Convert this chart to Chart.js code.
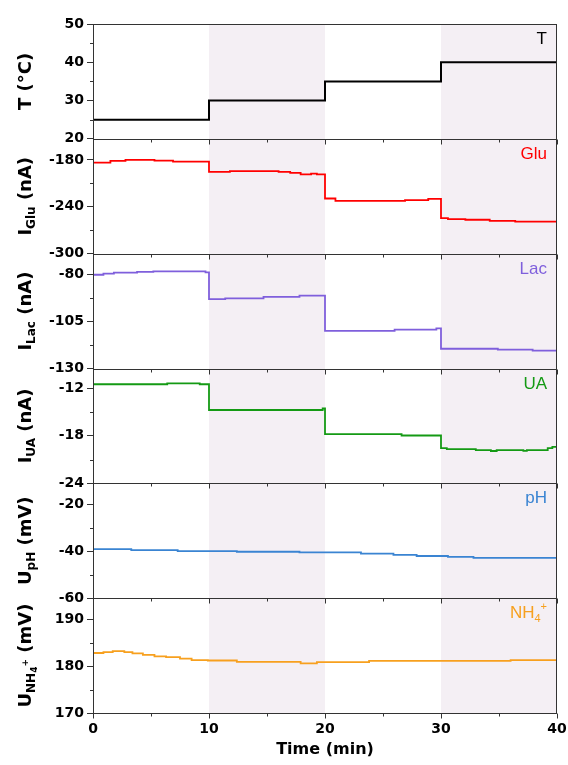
<!DOCTYPE html>
<html>
<head>
<meta charset="utf-8">
<script src="https://cdn.jsdelivr.net/npm/chart.js@4.4.1/dist/chart.umd.min.js"></script>
<style>
  html, body { margin: 0; padding: 0; background: #fff; }
  #wrap { width: 568px; height: 765px; }
</style>
</head>
<body>
<div id="wrap"><canvas id="chart" width="568" height="765"></canvas></div>
<script>
// Time axis
const timeTicks = [0, 10, 20, 30, 40];
const timeMinor = [5, 15, 25, 35];
const shadedBands = [[10, 20], [30, 40]];

// Temperature steps (min, °C)
const timeT = [0, 10, 20, 30, 40];
const tempC = [25, 30, 35, 40, 40];

// Glucose current (nA)
const timeGlu = [0, 1.5, 2.8, 5.3, 6.9, 10, 11.8, 16.0, 17.0, 17.9, 18.8, 19.3, 20, 20.9, 26.9, 28.9, 30, 30.6, 32.1, 34.2, 36.4, 40];
const curGlu = [-183.4, -181.3, -180.0, -180.9, -182.1, -195.3, -194.4, -195.3, -196.6, -198.5, -197.5, -198.6, -229.4, -232.3, -231.4, -229.8, -254.4, -255.7, -256.6, -257.9, -259.1, -259.1];

// Lactate current (nA)
const timeLac = [0, 0.9, 1.8, 3.8, 5.2, 9.7, 10, 11.4, 14.7, 17.8, 20, 26.0, 29.6, 30, 34.9, 37.9, 40];
const curLac = [-80.2, -79.6, -79.1, -78.7, -78.4, -78.9, -93.1, -92.8, -92.0, -91.3, -110.0, -109.4, -108.7, -119.5, -120.0, -120.5, -120.5];

// Uric acid current (nA)
const timeUA = [0, 6.4, 9.2, 10, 19.8, 20, 26.6, 30, 30.5, 33, 34.3, 34.8, 37.1, 37.4, 39.2, 39.6, 40];
const curUA = [-11.49, -11.37, -11.49, -14.74, -14.55, -17.79, -17.96, -19.56, -19.69, -19.81, -19.92, -19.81, -19.9, -19.81, -19.55, -19.4, -19.4];

// pH potential (mV)
const timePH = [0, 3.3, 7.3, 12.4, 17.8, 23.1, 25.9, 27.9, 30.6, 32.8, 40];
const potPH = [-39.1, -39.5, -39.9, -40.2, -40.5, -41.0, -41.5, -42.0, -42.4, -42.8, -42.8];

// NH4+ potential (mV)
const timeNH4 = [0, 0.9, 1.7, 2.7, 3.4, 4.3, 5.3, 6.3, 7.5, 8.5, 9.9, 12.4, 17.9, 19.3, 23.8, 36.0, 40];
const potNH4 = [182.8, 183.0, 183.2, 183.0, 182.7, 182.4, 182.1, 181.9, 181.6, 181.3, 181.2, 180.9, 180.6, 180.85, 181.1, 181.3, 181.3];

// Tick labels per panel
const tMajor = [20, 30, 40, 50], tMinor = [25, 35, 45];
const gluMajor = [-300, -240, -180], gluMinor = [-270, -210];
const lacMajor = [-130, -105, -80], lacMinor = [-117.5, -92.5];
const uaMajor = [-24, -18, -12], uaMinor = [-21, -15];
const phMajor = [-60, -40, -20], phMinor = [-50, -30];
const nh4Major = [170, 180, 190], nh4Minor = [175, 185];

const zip = (xs, ys) => xs.map((x, i) => ({ x: x, y: ys[i] }));

// top to bottom
const panels = [
  { id: "yT", time: timeT, vals: tempC, min: 20, max: 50, major: tMajor, minor: tMinor, color: "#000000", width: 2,
    label: [["T", 17, 0]], title: [["T (°C)", 18, 0]] },
  { id: "yGlu", time: timeGlu, vals: curGlu, min: -300, max: -153, major: gluMajor, minor: gluMinor, color: "#ff0000", width: 1.8,
    label: [["Glu", 17, 0]], title: [["I", 18, 0], ["Glu", 12, 4], [" (nA)", 18, 0]] },
  { id: "yLac", time: timeLac, vals: curLac, min: -130, max: -69, major: lacMajor, minor: lacMinor, color: "#7f5fdc", width: 1.8,
    label: [["Lac", 17, 0]], title: [["I", 18, 0], ["Lac", 12, 4], [" (nA)", 18, 0]] },
  { id: "yUA", time: timeUA, vals: curUA, min: -24, max: -9.5, major: uaMajor, minor: uaMinor, color: "#149a14", width: 1.8,
    label: [["UA", 17, 0]], title: [["I", 18, 0], ["UA", 12, 4], [" (nA)", 18, 0]] },
  { id: "yPH", time: timePH, vals: potPH, min: -60, max: -11, major: phMajor, minor: phMinor, color: "#3a84d2", width: 1.8,
    label: [["pH", 17, 0]], title: [["U", 18, 0], ["pH", 12, 4], [" (mV)", 18, 0]] },
  { id: "yNH4", time: timeNH4, vals: potNH4, min: 170, max: 194.5, major: nh4Major, minor: nh4Minor, color: "#f7a01e", width: 1.8,
    label: [["NH", 17, 0], ["4", 11, 4], ["+", 11, -8]],
    title: [["U", 18, 0], ["NH", 12, 4], ["4", 9, 6], ["+", 9, -3], [" (mV)", 18, 0]] },
];

const tickFont = { family: "DejaVu Sans", weight: "bold", size: 14 };
const axisColor = "#333333";

// Draw text made of pieces (for sub/superscripts)
function drawRich(ctx, parts, x, y, opts) {
  ctx.save();
  ctx.translate(x, y);
  if (opts.rotate) ctx.rotate(-Math.PI / 2);
  const fontFor = (s) => `${opts.weight} ${s}px ${opts.family}`;
  const widths = parts.map(([t, s]) => { ctx.font = fontFor(s); return ctx.measureText(t).width; });
  const total = widths.reduce((a, b) => a + b, 0);
  let cx = opts.align === "right" ? -total : opts.align === "center" ? -total / 2 : 0;
  ctx.fillStyle = opts.color;
  ctx.textAlign = "left";
  ctx.textBaseline = "alphabetic";
  parts.forEach(([t, s, dy], i) => {
    ctx.font = fontFor(s);
    ctx.fillText(t, cx, dy);
    cx += widths[i];
  });
  ctx.restore();
}

const panelPlugin = {
  id: "panels",
  beforeDatasetsDraw(chart) {
    const { ctx, chartArea: a, scales } = chart;
    ctx.save();
    ctx.fillStyle = "#f4eff4";
    shadedBands.forEach(([s, e]) => {
      const x0 = scales.x.getPixelForValue(s);
      const x1 = scales.x.getPixelForValue(e);
      ctx.fillRect(x0, a.top, x1 - x0, a.bottom - a.top);
    });
    ctx.restore();
  },
  afterDatasetsDraw(chart) {
    const { ctx, chartArea: a, scales } = chart;
    const x = scales.x;
    ctx.save();
    ctx.strokeStyle = axisColor;
    ctx.lineWidth = 1;
    panels.forEach((p) => {
      const s = scales[p.id];
      const top = Math.round(s.top) + 0.5;
      const bottom = Math.round(s.bottom) + 0.5;
      ctx.strokeRect(Math.round(a.left) + 0.5, top, Math.round(a.right - a.left) - 1, bottom - top);
      ctx.beginPath();
      timeTicks.forEach((t) => {
        const px = Math.round(x.getPixelForValue(t)) + 0.5;
        ctx.moveTo(px, bottom); ctx.lineTo(px, bottom + 5);
      });
      timeMinor.forEach((t) => {
        const px = Math.round(x.getPixelForValue(t)) + 0.5;
        ctx.moveTo(px, bottom); ctx.lineTo(px, bottom + 3);
      });
      p.minor.forEach((v) => {
        const py = Math.round(s.getPixelForValue(v)) + 0.5;
        ctx.moveTo(a.left - 3, py); ctx.lineTo(a.left, py);
      });
      ctx.stroke();
      drawRich(ctx, p.label, a.right - 10, s.top + 20,
        { family: "'Liberation Sans', Arial", weight: "normal", color: p.color, align: "right" });
    });
    ctx.restore();
  },
  afterDraw(chart) {
    const { ctx, scales } = chart;
    panels.forEach((p) => {
      const s = scales[p.id];
      drawRich(ctx, p.title, 31, (s.top + s.bottom) / 2,
        { family: "'DejaVu Sans'", weight: "bold", color: "#000", align: "center", rotate: true });
    });
  },
};

const scales = {
  x: {
    type: "linear",
    min: 0,
    max: 40,
    afterBuildTicks: (s) => { s.ticks = timeTicks.map((v) => ({ value: v })); },
    afterFit: (s) => { s.height = 52; s.paddingLeft = 0; s.paddingRight = 0; },
    grid: { display: false, drawTicks: false },
    border: { display: false },
    ticks: { color: "#000", font: tickFont, padding: 8, maxRotation: 0 },
    title: {
      display: true,
      text: "Time (min)",
      color: "#000",
      font: { family: "DejaVu Sans", weight: "bold", size: 16 },
      padding: { top: 0, bottom: 6 },
    },
  },
};

panels.forEach((p, i) => {
  scales[p.id] = {
    type: "linear",
    position: "left",
    stack: "panels",
    stackWeight: 1,
    weight: panels.length - i,
    min: p.min,
    max: p.max,
    afterBuildTicks: (s) => { s.ticks = p.major.map((v) => ({ value: v })); },
    afterFit: (s) => { s.width = 93; s.paddingTop = 0; s.paddingBottom = 0; },
    grid: { drawOnChartArea: false, drawTicks: true, tickLength: 6, color: axisColor, lineWidth: 1 },
    border: { display: true, color: axisColor, width: 1 },
    ticks: { autoSkip: false, color: "#000", font: tickFont, padding: 3 },
  };
});

const datasets = panels.map((p) => ({
  label: p.id,
  data: zip(p.time, p.vals),
  yAxisID: p.id,
  xAxisID: "x",
  borderColor: p.color,
  borderWidth: p.width,
  pointRadius: 0,
  stepped: true,
  fill: false,
}));

new Chart(document.getElementById("chart").getContext("2d"), {
  type: "line",
  data: { datasets: datasets },
  options: {
    responsive: false,
    animation: false,
    devicePixelRatio: 1,
    layout: { padding: { left: 0, top: 24, right: 11, bottom: 0 } },
    plugins: { legend: { display: false }, tooltip: { enabled: false } },
    scales: scales,
  },
  plugins: [panelPlugin],
});
</script>
</body>
</html>
